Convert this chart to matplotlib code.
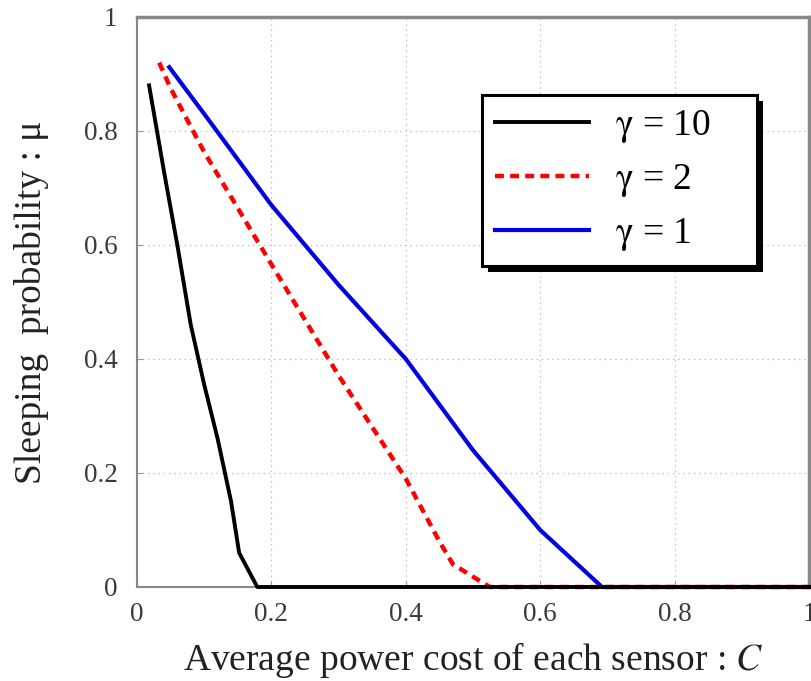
import matplotlib
matplotlib.use("Agg")
import matplotlib.pyplot as plt
from matplotlib.patches import Rectangle

plt.rcParams['font.family'] = ['Liberation Serif', 'DejaVu Serif']
plt.rcParams['mathtext.fontset'] = 'stix'

# data
x_g10 = [0.018, 0.04, 0.06, 0.08, 0.10, 0.12, 0.14, 0.152, 0.179, 1.0]
y_g10 = [0.88, 0.73, 0.60, 0.46, 0.355, 0.26, 0.15, 0.06, 0.0, 0.0]
x_g2 = [0.033, 0.05, 0.1, 0.2, 0.3, 0.4, 0.45, 0.47, 0.50, 0.525, 1.0]
y_g2 = [0.92, 0.875, 0.763, 0.566, 0.371, 0.19, 0.08, 0.04, 0.018, 0.0, 0.0]
x_g1 = [0.048, 0.1, 0.2, 0.3, 0.4, 0.5, 0.6, 0.692, 1.0]
y_g1 = [0.912, 0.83, 0.67, 0.53, 0.40, 0.24, 0.10, 0.0, 0.0]
labels = ['$\\mathrm{\\gamma}$ = 10', '$\\mathrm{\\gamma}$ = 2', '$\\mathrm{\\gamma}$ = 1']
xticks = [0, 0.2, 0.4, 0.6, 0.8, 1]
xticklabels = ['0', '0.2', '0.4', '0.6', '0.8', '1']
yticks = [0, 0.2, 0.4, 0.6, 0.8, 1]
yticklabels = ['0', '0.2', '0.4', '0.6', '0.8', '1']

fig = plt.figure(figsize=(8.12, 6.81), dpi=100)
ax = fig.add_axes([137/812, 1-587/681, (809-137)/812, (587-17)/681])

ax.plot(x_g1, y_g1, color='#0000e0', lw=3.0, label=labels[2], zorder=3, clip_on=False)
ax.plot(x_g2, y_g2, color='#ff0000', lw=3.2, ls=(0, (2.0, 1.4)), label=labels[1],
        zorder=4, clip_on=False)
ax.plot(x_g10, y_g10, color='black', lw=2.8, label=labels[0], zorder=5, clip_on=False)

ax.set_xlim(0, 1)
ax.set_ylim(0, 1)
ax.set_xticks(xticks)
ax.set_xticklabels(xticklabels)
ax.set_yticks(yticks)
ax.set_yticklabels(yticklabels)
ax.tick_params(direction='in', length=4, color='#999999', labelsize=19.5,
               labelcolor='#3a3a3a', pad=14)
ax.tick_params(axis='x', pad=11)
ax.grid(True, color='#c0c0c0', ls=(0, (1.2, 3)), lw=0.9)
for s in ax.spines.values():
    s.set_color('#888888')
    s.set_linewidth(1.5)
ax.spines['top'].set_linewidth(2.5)
ax.spines['right'].set_linewidth(2.5)

ax.set_xlabel('Average power cost of each sensor : $\\mathit{C}$', fontsize=27,
              color='#222222', labelpad=9)
ax.set_ylabel('Sleeping  probability : μ', fontsize=27, color='#222222', labelpad=25)

h, l = ax.get_legend_handles_labels()
order = [2, 1, 0]
leg = ax.legend([h[i] for i in order], [l[i] for i in order], loc='upper left',
                bbox_to_anchor=(0.513, 0.863), fontsize=27, handlelength=2.5,
                handletextpad=0.7, borderpad=0.35, labelspacing=0.45,
                borderaxespad=0.0, frameon=False)
leg.set_zorder(10)

fig.canvas.draw()
bb = leg.get_window_extent()
extra = 33
box = Rectangle((bb.x0, bb.y0), bb.width + extra, bb.height, transform=None,
                facecolor='white', edgecolor='black', lw=2.2, zorder=9.5)
sh = Rectangle((bb.x0 + 6, bb.y0 - 6), bb.width + extra, bb.height, transform=None,
               facecolor='black', edgecolor='none', zorder=9)
ax.add_artist(sh)
ax.add_artist(box)

fig.savefig('out.png', dpi=100)
